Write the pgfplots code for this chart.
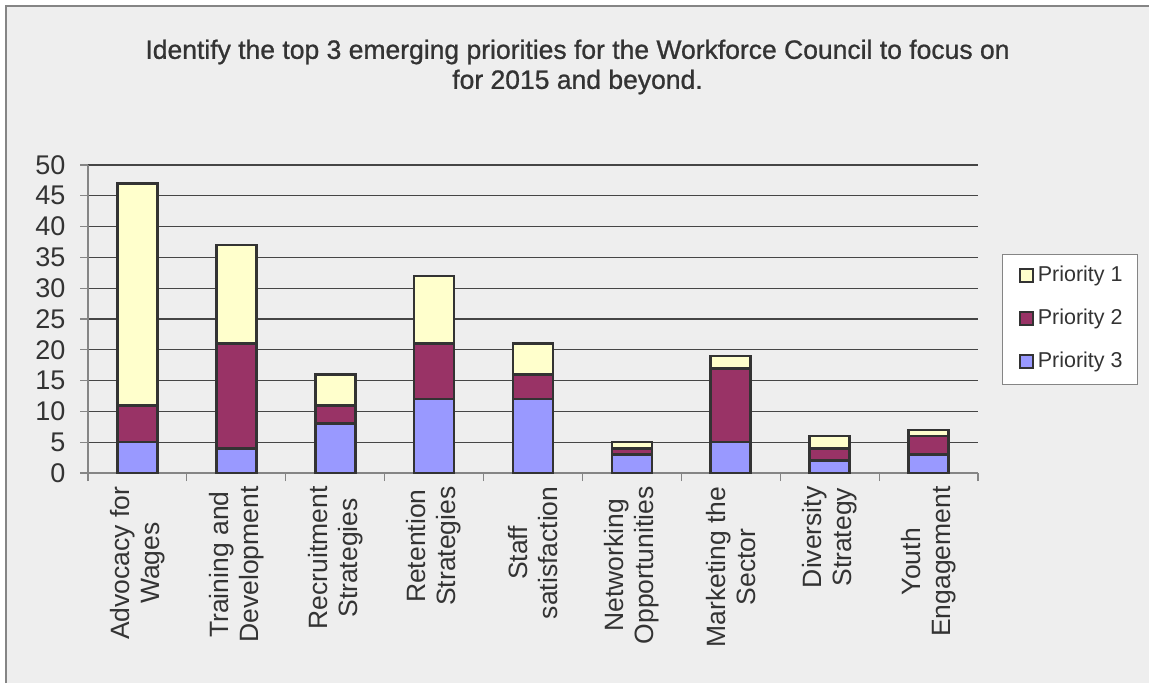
\documentclass[border=0pt]{standalone}
\usepackage{fontspec}
\setmainfont{Liberation Sans}
\usepackage{pgfplots}
\pgfplotsset{compat=1.18}
\definecolor{pone}{HTML}{FFFFCC}
\definecolor{ptwo}{HTML}{993366}
\definecolor{pthree}{HTML}{9999FF}
\definecolor{bg}{HTML}{EEEEEE}
\definecolor{txt}{HTML}{333333}
\definecolor{gridc}{HTML}{454545}
\definecolor{axisgray}{HTML}{858585}
\begin{document}
\begin{tikzpicture}[x=1pt,y=1pt]
\path[use as bounding box] (0,0) rectangle (1149,683);
\fill[white] (0,0) rectangle (1149,683);
\fill[bg] (6,0) rectangle (1149,677);
\draw[axisgray, line width=2pt] (6,0) -- (6,677) -- (1149,677);
\node[align=center, font=\addfontfeature{FakeBold=0.9}\fontsize{26.5}{30}\selectfont, text=txt] at (577.5,616)
  {Identify the top 3 emerging priorities for the Workforce Council to focus on\\for 2015 and beyond.};
\begin{axis}[
  scale only axis, width=890pt, height=308pt,
  at={(88pt,210pt)}, anchor=south west,
  ybar stacked, bar width=40pt,
  xmin=-0.5, xmax=8.5, ymin=0, ymax=50,
  ytick={0,5,...,50},
  xtick={-0.5,0.5,...,8.5},
  x tick label as interval,
  xticklabels={{Advocacy for\\Wages},{Training and\\Development},{Recruitment\\Strategies},{Retention\\Strategies},{Staff\\satisfaction},{Networking\\Opportunities},{Marketing the\\Sector},{Diversity\\Strategy},{Youth\\Engagement}},
  xticklabel style={rotate=90, anchor=east, align=center, font=\fontsize{26.5}{30}\selectfont, text=txt, xshift=-2pt},
  yticklabel style={font=\fontsize{27}{30}\selectfont, text=txt, xshift=-11pt},
  /pgf/number format/assume math mode=true,
  tick align=outside, major tick length=8pt,
  tick style={axisgray, line width=1.2pt},
  axis x line*=bottom, axis y line*=left,
  axis line style={axisgray, line width=1.5pt, -},
  ymajorgrids, grid style={gridc, line width=1.1pt},
  axis background/.style={fill=bg},
  legend cell align=left,
  legend style={at={(1.027,0.711)}, anchor=north west, draw=axisgray, fill=white,
    font=\fontsize{21.5}{25}\selectfont, text=txt, row sep=19pt, inner xsep=13pt, inner ysep=10pt,
    nodes={inner sep=2pt, text height=15pt, text depth=5pt}},
  legend image code/.code={\draw[#1, draw=txt, line width=2pt] (0pt,-6pt) rectangle (13pt,7pt); \path (-3pt,0pt) (15pt,0pt);},
  reverse legend,
  every axis plot/.append style={draw=txt, line width=2.6pt},
]
\addplot[fill=pthree] coordinates {(0,5)(1,4)(2,8)(3,12)(4,12)(5,3)(6,5)(7,2)(8,3)};
\addplot[fill=ptwo] coordinates {(0,6)(1,17)(2,3)(3,9)(4,4)(5,1)(6,12)(7,2)(8,3)};
\addplot[fill=pone] coordinates {(0,36)(1,16)(2,5)(3,11)(4,5)(5,1)(6,2)(7,2)(8,1)};
\legend{Priority 3,Priority 2,Priority 1}
\end{axis}
\end{tikzpicture}
\end{document}
